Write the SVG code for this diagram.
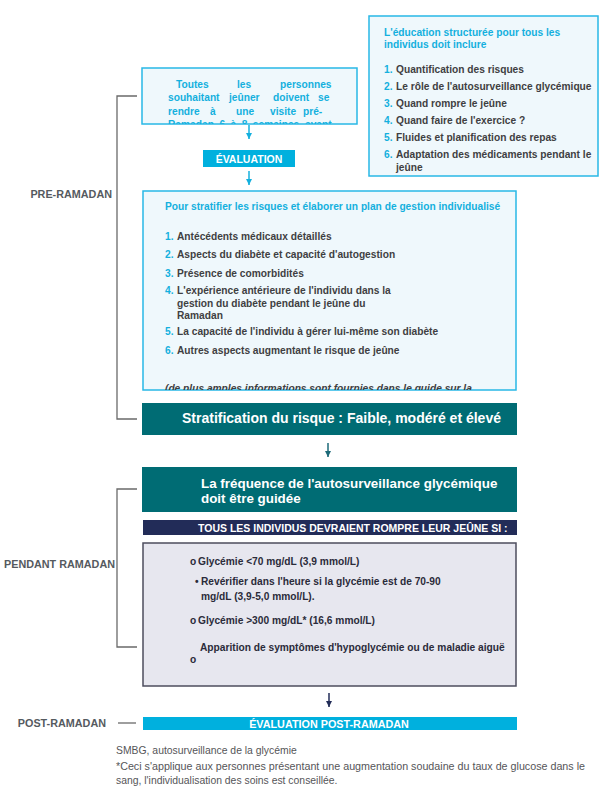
<svg xmlns="http://www.w3.org/2000/svg" width="607" height="795" viewBox="0 0 607 795">
<style>
text{font-family:"Liberation Sans",Arial,sans-serif}
.b{font-weight:bold}
.cy{fill:#14b0de}
.dk{fill:#3f3f42}
.lab{font-weight:bold;font-size:10.8px;fill:#555a60;text-anchor:end}
.body{font-size:10.2px;font-weight:bold}
.w{fill:#ffffff}
.lbox{fill:#eff8fc;stroke:#29b8e6;stroke-width:1.5}
.brk{fill:none;stroke:#6a6a6a;stroke-width:1.3}
.pend{font-size:10.2px;font-weight:bold;fill:#2b2b3a}
.foot{font-size:10.4px;fill:#555558}
</style>
<defs>
<marker id="ac" viewBox="0 0 10 10" refX="10" refY="5" markerWidth="6" markerHeight="7" orient="auto" markerUnits="userSpaceOnUse"><path d="M0,0 L10,5 L0,10 z" fill="#14b0de"/></marker>
<marker id="at" viewBox="0 0 10 10" refX="10" refY="5" markerWidth="6" markerHeight="7" orient="auto" markerUnits="userSpaceOnUse"><path d="M0,0 L10,5 L0,10 z" fill="#1d6a78"/></marker>
<marker id="an" viewBox="0 0 10 10" refX="10" refY="5" markerWidth="6" markerHeight="7" orient="auto" markerUnits="userSpaceOnUse"><path d="M0,0 L10,5 L0,10 z" fill="#222c58"/></marker>
<clipPath id="c1"><rect x="142" y="68" width="215" height="56"/></clipPath>
<clipPath id="c2"><rect x="143" y="191" width="373" height="199"/></clipPath>
<clipPath id="c3"><rect x="142" y="467" width="375" height="45"/></clipPath>
</defs>

<g id="phase-labels">
<text class="lab" x="112" y="198">PRE-RAMADAN</text>
<text class="lab" x="115" y="568">PENDANT RAMADAN</text>
<text class="lab" x="106" y="727">POST-RAMADAN</text>
</g>

<g id="connectors">
<path class="brk" d="M137,96 H117 V419 H137"/>
<path class="brk" d="M137,489 H117 V647 H137"/>
<line x1="118" y1="723" x2="136" y2="723" stroke="#6a6a6a" stroke-width="1.3"/>
<line x1="249" y1="125" x2="249" y2="139" stroke="#14b0de" stroke-width="1.5" marker-end="url(#ac)"/>
<line x1="249" y1="171" x2="249" y2="185" stroke="#14b0de" stroke-width="1.5" marker-end="url(#ac)"/>
<line x1="328" y1="443" x2="328" y2="457" stroke="#1d6a78" stroke-width="1.5" marker-end="url(#at)"/>
<line x1="329" y1="693" x2="329" y2="707" stroke="#222c58" stroke-width="1.5" marker-end="url(#an)"/>
</g>

<g id="education">
<rect class="lbox" x="369" y="16" width="229" height="160"/>
<text class="body cy" x="384" y="36">L'éducation structurée pour tous les</text>
<text class="body cy" x="384" y="48">individus doit inclure</text>
<text class="body dk" x="384" y="73"><tspan class="cy">1.</tspan><tspan x="396">Quantification des risques</tspan></text>
<text class="body dk" x="384" y="90"><tspan class="cy">2.</tspan><tspan x="396">Le rôle de l'autosurveillance glycémique</tspan></text>
<text class="body dk" x="384" y="107"><tspan class="cy">3.</tspan><tspan x="396">Quand rompre le jeûne</tspan></text>
<text class="body dk" x="384" y="124"><tspan class="cy">4.</tspan><tspan x="396">Quand faire de l'exercice ?</tspan></text>
<text class="body dk" x="384" y="141"><tspan class="cy">5.</tspan><tspan x="396">Fluides et planification des repas</tspan></text>
<text class="body dk" x="384" y="158"><tspan class="cy">6.</tspan><tspan x="396">Adaptation des médicaments pendant le</tspan></text>
<text class="body dk" x="396" y="171">jeûne</text>
</g>

<g id="visit">
<rect class="lbox" x="142" y="68" width="215" height="56"/>
<g clip-path="url(#c1)">
<text class="body cy" y="88"><tspan x="176">Toutes</tspan><tspan x="237">les</tspan><tspan x="280">personnes</tspan></text>
<text class="body cy" y="101"><tspan x="168">souhaitant</tspan><tspan x="229">jeûner</tspan><tspan x="273">doivent</tspan><tspan x="318">se</tspan></text>
<text class="body cy" y="115"><tspan x="168">rendre</tspan><tspan x="210">à</tspan><tspan x="236">une</tspan><tspan x="270">visite</tspan><tspan x="303">pré-</tspan></text>
<text class="body cy" y="128"><tspan x="168">Ramadan</tspan><tspan x="219.5">6</tspan><tspan x="230.6">à</tspan><tspan x="241.7">8</tspan><tspan x="252.8">semaines</tspan><tspan x="305">avant</tspan></text>
</g>
</g>

<g id="evaluation">
<rect x="203" y="150" width="92" height="17" fill="#00b0de"/>
<text class="b w" x="249" y="162.5" font-size="10.5" text-anchor="middle">ÉVALUATION</text>
</g>

<g id="stratify-plan">
<rect class="lbox" x="143" y="191" width="373" height="199"/>
<text class="body cy" x="165" y="210" font-size="10.8">Pour stratifier les risques et élaborer un plan de gestion individualisé</text>
<text class="body dk" x="165" y="240"><tspan class="cy">1.</tspan><tspan x="177">Antécédents médicaux détaillés</tspan></text>
<text class="body dk" x="165" y="258"><tspan class="cy">2.</tspan><tspan x="177">Aspects du diabète et capacité d'autogestion</tspan></text>
<text class="body dk" x="165" y="277"><tspan class="cy">3.</tspan><tspan x="177">Présence de comorbidités</tspan></text>
<text class="body dk" x="165" y="294"><tspan class="cy">4.</tspan><tspan x="177">L'expérience antérieure de l'individu dans la</tspan></text>
<text class="body dk" x="177" y="307">gestion du diabète pendant le jeûne du</text>
<text class="body dk" x="177" y="319">Ramadan</text>
<text class="body dk" x="165" y="335"><tspan class="cy">5.</tspan><tspan x="177">La capacité de l'individu à gérer lui-même son diabète</tspan></text>
<text class="body dk" x="165" y="354"><tspan class="cy">6.</tspan><tspan x="177">Autres aspects augmentant le risque de jeûne</tspan></text>
<g clip-path="url(#c2)">
<text class="body dk" x="165" y="392" font-style="italic">(de plus amples informations sont fournies dans le guide sur la</text>
</g>
</g>

<g id="risk-stratification">
<rect x="142" y="403" width="375" height="32" fill="#006c74"/>
<text class="b w" x="182" y="423" font-size="14">Stratification du risque : Faible, modéré et élevé</text>
</g>

<g id="smbg-frequency">
<rect x="142" y="467" width="375" height="45" fill="#006c74"/>
<g clip-path="url(#c3)">
<text class="b w" x="201" y="488" font-size="13.4">La fréquence de l'autosurveillance glycémique</text>
<text class="b w" x="201" y="503" font-size="13.4">doit être guidée</text>
</g>
</g>

<g id="break-fast-header">
<rect x="143" y="520" width="374" height="15" fill="#222c58"/>
<text class="b w" x="198" y="531.5" font-size="10.5">TOUS LES INDIVIDUS DEVRAIENT ROMPRE LEUR JEÛNE SI :</text>
</g>

<g id="break-fast-criteria">
<rect x="143" y="543" width="373" height="143" fill="#e7e7ef" stroke="#4d4d5e" stroke-width="1.5"/>
<text class="pend" x="190" y="565">o</text>
<text class="pend" x="198" y="565">Glycémie &lt;70 mg/dL (3,9 mmol/L)</text>
<text class="pend" x="195" y="585">•</text>
<text class="pend" x="201" y="585">Revérifier dans l'heure si la glycémie est de 70-90</text>
<text class="pend" x="201" y="600">mg/dL (3,9-5,0 mmol/L).</text>
<text class="pend" x="190" y="624">o</text>
<text class="pend" x="198" y="624">Glycémie &gt;300 mg/dL* (16,6 mmol/L)</text>
<text class="pend" x="200" y="651">Apparition de symptômes d'hypoglycémie ou de maladie aiguë</text>
<text class="pend" x="190" y="663">o</text>
</g>

<g id="post-evaluation">
<rect x="143" y="717" width="374" height="13" fill="#00b0de"/>
<text class="b w" x="329" y="727.5" font-size="10.8" text-anchor="middle">ÉVALUATION POST-RAMADAN</text>
</g>

<g id="footnotes">
<text class="foot" x="116" y="754">SMBG, autosurveillance de la glycémie</text>
<text class="foot" x="116" y="770" textLength="469" lengthAdjust="spacingAndGlyphs">*Ceci s'applique aux personnes présentant une augmentation soudaine du taux de glucose dans le</text>
<text class="foot" x="116" y="784">sang, l'individualisation des soins est conseillée.</text>
</g>
</svg>
